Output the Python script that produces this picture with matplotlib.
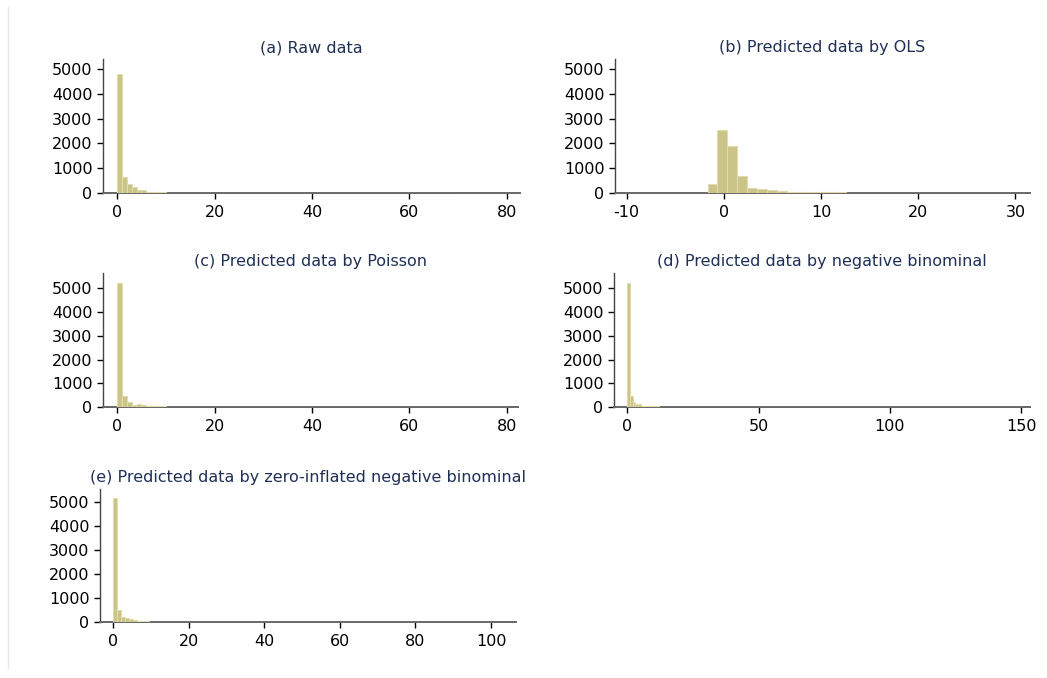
import numpy as np
import matplotlib.pyplot as plt
from matplotlib.lines import Line2D

plt.rcParams["axes.unicode_minus"] = False

# Histogram counts (bin width and first bin edge per panel)
raw_start, raw_width = 0.0, 1.0
raw_counts = [4780, 630, 365, 255, 110, 110, 45, 45, 45, 45,
              18, 15, 14, 12, 10, 9, 8, 8, 7, 6,
              6, 5, 5, 5, 4, 4, 4, 3, 3, 3,
              3, 3, 2, 2, 2, 2, 2, 2, 2, 2,
              0, 0, 2, 2, 2, 0, 0, 0, 0, 0,
              2, 0, 0, 2, 0, 0, 0, 0, 0, 0,
              0, 2, 0, 2, 0, 0, 0, 0, 0, 2]

ols_start, ols_width = -2.7, 1.02
ols_counts = [8, 375, 2550, 1910, 667, 200, 150, 120, 95, 55,
              55, 50, 45, 30, 25, 20, 15, 12, 10, 9,
              8, 7, 6, 5, 5, 4, 4, 3, 3, 3,
              2, 2, 2]

poi_start, poi_width = 0.0, 1.0
poi_counts = [5210, 465, 225, 85, 127, 85, 42, 42, 42, 42,
              12, 10, 8, 7, 6, 5, 5, 4, 4, 3,
              3, 3, 2, 2, 2, 2, 2, 2, 2, 2,
              2, 2, 2, 2, 2, 2, 2, 2, 2, 2,
              2, 2, 2, 2, 2, 2, 2, 2, 2, 2,
              2, 2, 2, 2, 2, 2, 2, 2, 2, 2,
              2, 2, 2, 2, 2, 2, 2, 2, 2, 2,
              2, 2, 2, 2, 2, 2, 2, 2, 2, 2]

nb_start, nb_width = 0.0, 1.0
nb_counts = [5220, 465, 225, 140, 110, 55, 55, 55, 55, 30,
             30, 55, 15, 12, 10, 8, 7, 6, 5, 5,
             4, 4, 3, 3, 3, 3, 2, 2, 2, 2] + [2] * 120

zinb_start, zinb_width = 0.0, 1.05
zinb_counts = [5200, 485, 210, 165, 140, 100, 55, 55, 55, 15,
               12, 10, 8, 7, 6, 5, 5, 4, 4, 3,
               3, 3, 2, 2, 2, 2, 2, 2, 2, 2] + [2] * 66

titles = ["(a) Raw data",
          "(b) Predicted data by OLS",
          "(c) Predicted data by Poisson",
          "(d) Predicted data by negative binominal",
          "(e) Predicted data by zero-inflated negative binominal"]

xticks = [[0, 20, 40, 60, 80],
          [-10, 0, 10, 20, 30],
          [0, 20, 40, 60, 80],
          [0, 50, 100, 150],
          [0, 20, 40, 60, 80, 100]]
xlims = [(-2.9, 82.7), (-11.2, 31.5), (-2.9, 82.3), (-5.1, 153.4), (-3.5, 106.6)]
ylims = [5400, 5400, 5650, 5650, 5560]
yticks = [0, 1000, 2000, 3000, 4000, 5000]

panels = [(raw_start, raw_width, raw_counts),
          (ols_start, ols_width, ols_counts),
          (poi_start, poi_width, poi_counts),
          (nb_start, nb_width, nb_counts),
          (zinb_start, zinb_width, zinb_counts)]

# axes boxes in pixels: left, right, top, bottom
boxes = [(103, 520, 59, 193), (615, 1030, 59, 193),
         (103, 518, 273, 407), (614, 1030, 273, 407),
         (100, 516, 489, 622)]

W, H = 1047, 678
fig = plt.figure(figsize=(W / 100, H / 100), dpi=100)
fig.add_artist(Line2D([8 / W, 8 / W], [0.015, 0.99], color="#e8e8e8", lw=1))

BAR = "#cbc487"
EDGE = "#e0dcae"
TITLE = "#1f3057"

for i, (start, width, counts) in enumerate(panels):
    l, r, t, b = boxes[i]
    ax = fig.add_axes([l / W, 1 - b / H, (r - l) / W, (b - t) / H])
    counts = np.array(counts)
    lefts = start + width * np.arange(len(counts))
    ax.bar(lefts, counts, width=width, align="edge", color=BAR,
           edgecolor=EDGE, linewidth=0.8, zorder=3)
    ax.set_xlim(*xlims[i])
    ax.set_ylim(0, ylims[i])
    ax.set_xticks(xticks[i])
    ax.set_yticks(yticks)
    ax.set_title(titles[i], fontsize=11.5, color=TITLE, pad=5)
    for s in ["top", "right"]:
        ax.spines[s].set_visible(False)
    ax.spines["left"].set_color("#444444")
    ax.spines["bottom"].set_color("#666666")
    ax.spines["left"].set_linewidth(1.0)
    ax.spines["bottom"].set_linewidth(1.4)
    ax.tick_params(axis="y", length=4.5, width=1, pad=3, labelsize=11.5)
    ax.tick_params(axis="x", length=4, width=1, pad=4.5, labelsize=11.5)

plt.savefig("out.png", dpi=100)
